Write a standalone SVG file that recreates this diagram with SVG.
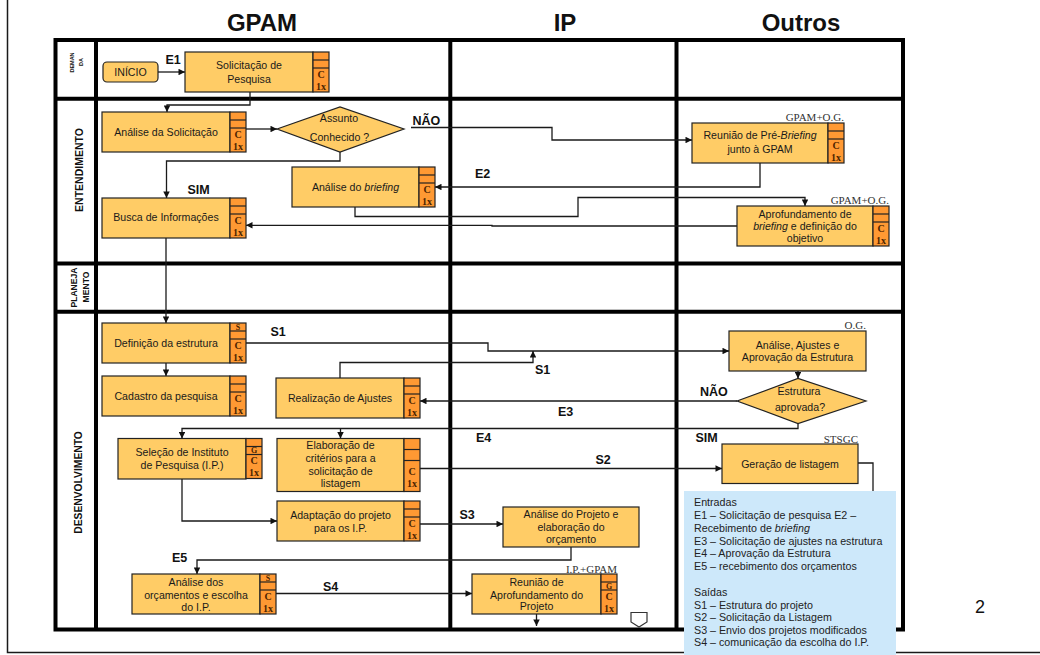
<svg xmlns="http://www.w3.org/2000/svg" width="1040" height="655" viewBox="0 0 1040 655">
  <style>
    .bg { fill: #ffffff; }
    .frame { fill: none; stroke: #1a1a1a; stroke-width: 1.5; }
    .grid { fill: none; stroke: #000; stroke-width: 4; }
    .box { fill: #FFCC66; stroke: #222; stroke-width: 1.2; }
    .strip-cell { fill: #FF9933; stroke: #222; stroke-width: 1.2; }
    .sep { stroke: #222; stroke-width: 1.2; }
    .t { font-family: "Liberation Sans", Arial, sans-serif; font-size: 10.6px; fill: #1a1a1a; text-anchor: middle; }
    .lbl { font-family: "Liberation Sans", Arial, sans-serif; font-size: 12.5px; font-weight: bold; fill: #111; }
    .hdr { font-family: "Liberation Sans", Arial, sans-serif; font-size: 24px; font-weight: bold; fill: #111; text-anchor: middle; }
    .lane { font-family: "Liberation Sans", Arial, sans-serif; font-weight: bold; fill: #111; text-anchor: middle; }
    .ser { font-family: "Liberation Serif", "Times New Roman", serif; font-size: 11px; fill: #333; text-anchor: end; }
    .sc { font-family: "Liberation Serif", "Times New Roman", serif; font-size: 10px; font-weight: bold; fill: #4d2400; text-anchor: middle; }
    .sm { font-family: "Liberation Serif", "Times New Roman", serif; font-size: 8px; font-weight: bold; fill: #4d2400; text-anchor: middle; }
    .conn path { fill: none; stroke: #1a1a1a; stroke-width: 1.3; }
    .legend { fill: #CDE8FA; }
    .lt { font-family: "Liberation Sans", Arial, sans-serif; font-size: 10.7px; fill: #222; }
    .off { fill: #fff; stroke: #333; stroke-width: 1.2; }
  </style>
  <defs>
    <marker id="arr" viewBox="0 0 10 10" refX="10" refY="5" markerWidth="7" markerHeight="6.5" markerUnits="userSpaceOnUse" orient="auto">
      <path d="M0,0 L10,5 L0,10 z" fill="#111"/>
    </marker>
    <!-- side strip of a task box: two small cells and the C / 1x cell -->
    <g id="strip">
      <rect class="strip-cell" x="0" y="0" width="16" height="40"/>
      <line class="sep" x1="0" y1="8" x2="16" y2="8"/>
      <line class="sep" x1="0" y1="16" x2="16" y2="16"/>
      <text class="sc" x="8" y="25.5">C</text>
      <text class="sc" x="8" y="37.5">1x</text>
    </g>
    <g id="stripS">
      <use href="#strip"/>
      <text class="sm" x="8" y="6.8">S</text>
    </g>
    <g id="stripG">
      <use href="#strip"/>
      <text class="sm" x="8" y="14.8">G</text>
    </g>
    <g id="strip53">
      <rect class="strip-cell" x="0" y="0" width="16" height="53"/>
      <line class="sep" x1="0" y1="11" x2="16" y2="11"/>
      <line class="sep" x1="0" y1="22" x2="16" y2="22"/>
      <text class="sc" x="8" y="36.5">C</text>
      <text class="sc" x="8" y="48">1x</text>
    </g>
  </defs>

  <rect class="bg" x="0" y="0" width="1040" height="655"/>

  <!-- page frame -->
  <path class="frame" d="M7.5 0 V652.5 H1040"/>

  <!-- column headers -->
  <text class="hdr" x="262" y="31">GPAM</text>
  <text class="hdr" x="565" y="31">IP</text>
  <text class="hdr" x="801" y="31">Outros</text>

  <!-- swimlane grid -->
  <g id="grid">
    <rect class="grid" x="55.5" y="40" width="847.5" height="589.5"/>
    <line class="grid" x1="96" y1="40" x2="96" y2="629.5"/>
    <line class="grid" x1="450.3" y1="40" x2="450.3" y2="629.5"/>
    <line class="grid" x1="676.5" y1="40" x2="676.5" y2="629.5"/>
    <line class="grid" x1="55.5" y1="98.7" x2="903" y2="98.7"/>
    <line class="grid" x1="55.5" y1="263.5" x2="903" y2="263.5"/>
    <line class="grid" x1="55.5" y1="311.7" x2="903" y2="311.7"/>
  </g>

  <!-- lane titles -->
  <g id="lanes">
    <text class="lane" font-size="5.5" transform="translate(73.5,62.5) rotate(-90)">DEMAN</text>
    <text class="lane" font-size="5.5" transform="translate(83,62) rotate(-90)">DA</text>
    <text class="lane" font-size="10.5" transform="translate(82.5,170) rotate(-90)">ENTENDIMENTO</text>
    <text class="lane" font-size="8.6" transform="translate(77,287.5) rotate(-90)">PLANEJA</text>
    <text class="lane" font-size="8.6" transform="translate(89,287) rotate(-90)">MENTO</text>
    <text class="lane" font-size="10.3" transform="translate(81.5,482.5) rotate(-90)">DESENVOLVIMENTO</text>
  </g>

  <!-- connectors -->
  <g class="conn" id="connectors">
    <path d="M158 72 H185" marker-end="url(#arr)"/>
    <path d="M250 92 V105 H167 V112" marker-end="url(#arr)"/>
    <path d="M246 129 H277" marker-end="url(#arr)"/>
    <path d="M411 127.5 H552 V140 H692" marker-end="url(#arr)"/>
    <path d="M340 152 V161 H166.5 V198" marker-end="url(#arr)"/>
    <path d="M760 163 V187 H435" marker-end="url(#arr)"/>
    <path d="M355 207 V216.5 H578 V197.5 H805 V206" marker-end="url(#arr)"/>
    <path d="M737 226 H492 V225.3 H246" marker-end="url(#arr)"/>
    <path d="M166 238 V323" marker-end="url(#arr)"/>
    <path d="M166 363 V376" marker-end="url(#arr)"/>
    <path d="M246 343 H488 V351 H729" marker-end="url(#arr)"/>
    <path d="M340 378 V362.5 H533 V351" marker-end="url(#arr)"/>
    <path d="M798 371 V378.5" marker-end="url(#arr)"/>
    <path d="M737 401 H420" marker-end="url(#arr)"/>
    <path d="M798 423.5 V428.5 H182 V438.5" marker-end="url(#arr)"/>
    <path d="M340.5 428.5 V438.5" marker-end="url(#arr)"/>
    <path d="M420 468.5 H722" marker-end="url(#arr)"/>
    <path d="M858 463 H873 V495"/>
    <path d="M182 479 V521 H277" marker-end="url(#arr)"/>
    <path d="M420 524 H503" marker-end="url(#arr)"/>
    <path d="M571 547 V560 H197 V574" marker-end="url(#arr)"/>
    <path d="M276 593.5 H472" marker-end="url(#arr)"/>
    <path d="M536.5 614 V626" marker-end="url(#arr)"/>
  </g>

  <!-- connector labels -->
  <g id="labels">
    <text class="lbl" x="165.5" y="63.5" font-size="10.5">E1</text>
    <text class="lbl" x="412.5" y="125">NÃO</text>
    <text class="lbl" x="187.5" y="193.5">SIM</text>
    <text class="lbl" x="475" y="178">E2</text>
    <text class="lbl" x="270.5" y="336">S1</text>
    <text class="lbl" x="535" y="374">S1</text>
    <text class="lbl" x="700" y="396">NÃO</text>
    <text class="lbl" x="558" y="415.5">E3</text>
    <text class="lbl" x="476" y="441.5">E4</text>
    <text class="lbl" x="695.5" y="441.5">SIM</text>
    <text class="lbl" x="595.5" y="463.5">S2</text>
    <text class="lbl" x="459.5" y="519">S3</text>
    <text class="lbl" x="172" y="561.5">E5</text>
    <text class="lbl" x="323" y="590.5">S4</text>
  </g>

  <!-- DEMANDA -->
  <g id="n-inicio">
    <rect class="box" x="103" y="62" width="55" height="20" rx="4"/>
    <text class="t" x="130.5" y="76">INÍCIO</text>
  </g>
  <g id="n-solicitacao">
    <rect class="box" x="185" y="52" width="128" height="40"/>
    <use href="#strip" x="313" y="52"/>
    <text class="t" x="249" y="69">Solicitação de</text>
    <text class="t" x="249" y="82.5">Pesquisa</text>
  </g>

  <!-- ENTENDIMENTO -->
  <g id="n-analise-solicitacao">
    <rect class="box" x="102" y="112" width="128" height="40"/>
    <use href="#strip" x="230" y="112"/>
    <text class="t" x="166" y="136">Análise da Solicitação</text>
  </g>
  <g id="d-assunto">
    <polygon class="box" points="277,129 340,107 404,129 340,152"/>
    <text class="t" x="339" y="122">Assunto</text>
    <text class="t" x="339.5" y="141">Conhecido ?</text>
  </g>
  <g id="n-reuniao-pre-briefing">
    <text class="ser" x="844" y="121">GPAM+O.G.</text>
    <rect class="box" x="692" y="123" width="136" height="40"/>
    <use href="#strip" x="828" y="123"/>
    <text class="t" x="760" y="139.3">Reunião de Pré-<tspan font-style="italic">Briefing</tspan></text>
    <text class="t" x="760" y="152.7">junto à GPAM</text>
  </g>
  <g id="n-analise-briefing">
    <rect class="box" x="292" y="167" width="127" height="40"/>
    <use href="#strip" x="419" y="167"/>
    <text class="t" x="355.5" y="191">Análise do <tspan font-style="italic">briefing</tspan></text>
  </g>
  <g id="n-busca">
    <rect class="box" x="102" y="198" width="128" height="40"/>
    <use href="#strip" x="230" y="198"/>
    <text class="t" x="166" y="220.7">Busca de Informações</text>
  </g>
  <g id="n-aprofundamento-briefing">
    <text class="ser" x="889" y="203.5">GPAM+O.G.</text>
    <rect class="box" x="737" y="206" width="136" height="40"/>
    <use href="#strip" x="873" y="206"/>
    <text class="t" x="805" y="217.5">Aprofundamento de</text>
    <text class="t" x="805" y="230"><tspan font-style="italic">briefing</tspan> e definição do</text>
    <text class="t" x="805" y="242.3">objetivo</text>
  </g>

  <!-- DESENVOLVIMENTO -->
  <g id="n-definicao">
    <rect class="box" x="102" y="323" width="128" height="40"/>
    <use href="#stripS" x="230" y="323"/>
    <text class="t" x="166" y="346.7">Definição da estrutura</text>
  </g>
  <g id="n-cadastro">
    <rect class="box" x="102" y="376" width="128" height="40"/>
    <use href="#strip" x="230" y="376"/>
    <text class="t" x="166" y="399.7">Cadastro da pesquisa</text>
  </g>
  <g id="n-realizacao-ajustes">
    <rect class="box" x="276" y="378" width="128" height="40"/>
    <use href="#strip" x="404" y="378"/>
    <text class="t" x="340" y="401.7">Realização de Ajustes</text>
  </g>
  <g id="n-aprovacao-estrutura">
    <text class="ser" x="866" y="328.5">O.G.</text>
    <rect class="box" x="729" y="331" width="137" height="40"/>
    <text class="t" x="797.5" y="348.5">Análise, Ajustes e</text>
    <text class="t" x="797.5" y="360.7">Aprovação da Estrutura</text>
  </g>
  <g id="d-estrutura">
    <polygon class="box" points="737,401 798,378.5 866,401 798,423.5"/>
    <text class="t" x="799" y="394.5">Estrutura</text>
    <text class="t" x="800" y="411">aprovada?</text>
  </g>
  <g id="n-selecao">
    <rect class="box" x="118" y="438.5" width="128" height="40.5"/>
    <use href="#stripG" x="246" y="438.5"/>
    <text class="t" x="182" y="456">Seleção de Instituto</text>
    <text class="t" x="182" y="468.5">de Pesquisa (I.P.)</text>
  </g>
  <g id="n-elaboracao">
    <rect class="box" x="277" y="438.5" width="127" height="53"/>
    <use href="#strip53" x="404" y="438.5"/>
    <text class="t" x="340.5" y="449">Elaboração de</text>
    <text class="t" x="340.5" y="462">critérios para a</text>
    <text class="t" x="340.5" y="474.8">solicitação de</text>
    <text class="t" x="340.5" y="487.2">listagem</text>
  </g>
  <g id="n-geracao-listagem">
    <text class="ser" x="858" y="442.5">STSGC</text>
    <rect class="box" x="722" y="444" width="136" height="39.5"/>
    <text class="t" x="790" y="467.5">Geração de listagem</text>
  </g>
  <g id="n-adaptacao">
    <rect class="box" x="277" y="501" width="127" height="40"/>
    <use href="#strip" x="404" y="501"/>
    <text class="t" x="340.5" y="519">Adaptação do projeto</text>
    <text class="t" x="340.5" y="531.7">para os I.P.</text>
  </g>
  <g id="n-analise-projeto">
    <rect class="box" x="503" y="507" width="136" height="40"/>
    <text class="t" x="571" y="518">Análise do Projeto e</text>
    <text class="t" x="571" y="531">elaboração do</text>
    <text class="t" x="571" y="543.3">orçamento</text>
  </g>
  <g id="n-analise-orcamentos">
    <rect class="box" x="132" y="574" width="128" height="40"/>
    <use href="#stripS" x="260" y="574"/>
    <text class="t" x="196" y="586">Análise dos</text>
    <text class="t" x="196" y="598.5">orçamentos e escolha</text>
    <text class="t" x="196" y="610.7">do I.P.</text>
  </g>
  <g id="n-reuniao-aprofundamento">
    <text class="ser" x="617" y="573">I.P.+GPAM</text>
    <rect class="box" x="472" y="574" width="129" height="40"/>
    <use href="#stripG" x="601" y="574"/>
    <text class="t" x="536.5" y="586.3">Reunião de</text>
    <text class="t" x="536.5" y="598.5">Aprofundamento do</text>
    <text class="t" x="536.5" y="610">Projeto</text>
  </g>
  <g id="n-offpage">
    <polygon class="off" points="631,612.5 647,612.5 647,622 639,627 631,622"/>
  </g>

  <!-- legend -->
  <g id="legend">
    <rect class="legend" x="684" y="491" width="212" height="164"/>
    <text class="lt" x="694" y="506">Entradas</text>
    <text class="lt" x="694" y="519">E1 – Solicitação de pesquisa E2 –</text>
    <text class="lt" x="694" y="531.8">Recebimento de <tspan font-style="italic">briefing</tspan></text>
    <text class="lt" x="694" y="544.5">E3 – Solicitação de ajustes na estrutura</text>
    <text class="lt" x="694" y="557">E4 – Aprovação da Estrutura</text>
    <text class="lt" x="694" y="569.5">E5 – recebimento dos orçamentos</text>
    <text class="lt" x="694" y="596">Saídas</text>
    <text class="lt" x="694" y="608.5">S1 – Estrutura do projeto</text>
    <text class="lt" x="694" y="621">S2 – Solicitação da Listagem</text>
    <text class="lt" x="694" y="633.5">S3 – Envio dos projetos modificados</text>
    <text class="lt" x="694" y="646">S4 – comunicação da escolha do I.P.</text>
  </g>

  <!-- page number -->
  <text x="980" y="613" font-family="'Liberation Sans', Arial, sans-serif" font-size="18" text-anchor="middle" fill="#111">2</text>
</svg>
